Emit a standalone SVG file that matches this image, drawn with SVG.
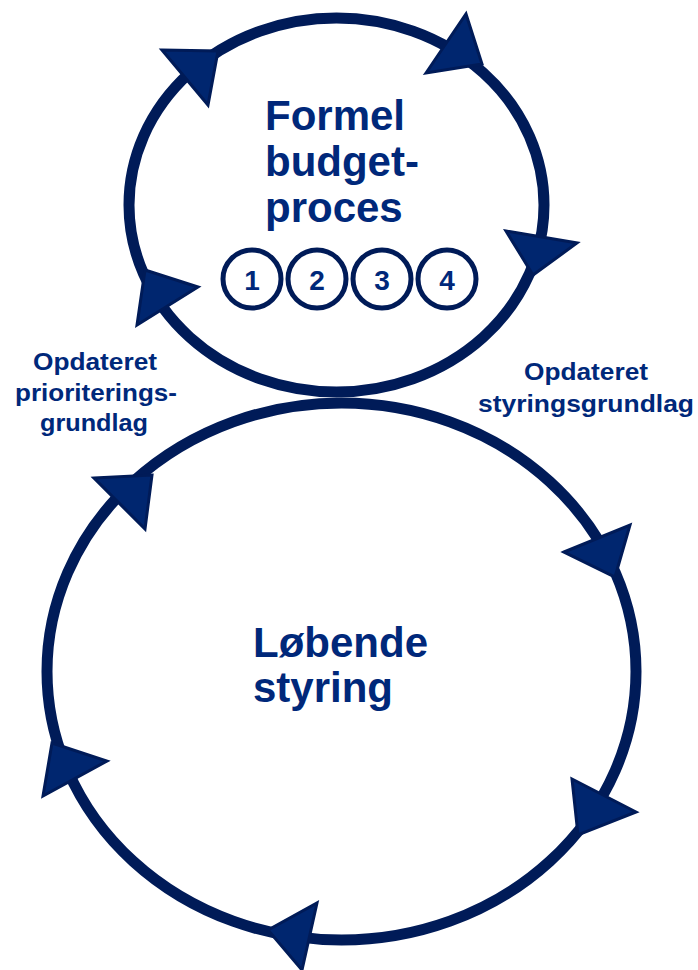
<svg xmlns="http://www.w3.org/2000/svg" width="698" height="970" viewBox="0 0 698 970">
  <style>
    .ring { fill: none; stroke: #001b58; stroke-width: 11; }
    .head { fill: #00266f; stroke: #001b58; stroke-width: 3; stroke-linejoin: miter; }
    .title { font-family: "Liberation Sans", Arial, sans-serif; font-weight: bold; font-size: 42px; fill: #00287a; }
    .lbl { font-family: "Liberation Sans", Arial, sans-serif; font-weight: bold; font-size: 24px; fill: #00287a; text-anchor: middle; }
    .step { fill: #ffffff; stroke: #001b58; stroke-width: 5; }
    .num { font-family: "Liberation Sans", Arial, sans-serif; font-weight: bold; font-size: 28px; fill: #00287a; text-anchor: middle; }
  </style>
  <rect width="698" height="970" fill="#ffffff"/>

  <g id="connectors">
    <ellipse class="ring" cx="336.5" cy="205" rx="207.5" ry="187"/>
    <ellipse class="ring" cx="341.5" cy="671.5" rx="294.5" ry="268.5"/>
    <polygon class="head" points="162,50 218,51 208,105"/>
    <polygon class="head" points="426,73 466,14 482,64"/>
    <polygon class="head" points="506,231 577,243 533,275"/>
    <polygon class="head" points="145,270 198,287 137,325"/>
    <polygon class="head" points="94,478 152,475 145,529"/>
    <polygon class="head" points="564,552 630,525 615,577"/>
    <polygon class="head" points="572,779 636,812 578,835"/>
    <polygon class="head" points="268,930 317,903 302,970"/>
    <polygon class="head" points="52,743 107,761 43,796"/>
  </g>

  <g id="formel-budgetproces">
    <text class="title" x="265" y="130">Formel</text>
    <text class="title" x="265" y="176">budget-</text>
    <text class="title" x="265" y="222">proces</text>
  </g>

  <g id="step-1">
    <circle class="step" cx="252" cy="279" r="29"/>
    <text class="num" x="252" y="290">1</text>
  </g>
  <g id="step-2">
    <circle class="step" cx="317" cy="279" r="29"/>
    <text class="num" x="317" y="290">2</text>
  </g>
  <g id="step-3">
    <circle class="step" cx="382" cy="279" r="29"/>
    <text class="num" x="382" y="290">3</text>
  </g>
  <g id="step-4">
    <circle class="step" cx="447" cy="279" r="29"/>
    <text class="num" x="447" y="290">4</text>
  </g>

  <g id="loebende-styring">
    <text class="title" x="253" y="657">Løbende</text>
    <text class="title" x="253" y="702">styring</text>
  </g>

  <g id="label-prioriteringsgrundlag">
    <text class="lbl" x="95" y="370" textLength="124" lengthAdjust="spacingAndGlyphs">Opdateret</text>
    <text class="lbl" x="96" y="401" textLength="162" lengthAdjust="spacingAndGlyphs">prioriterings-</text>
    <text class="lbl" x="94" y="431" textLength="108" lengthAdjust="spacingAndGlyphs">grundlag</text>
  </g>

  <g id="label-styringsgrundlag">
    <text class="lbl" x="586" y="380" textLength="124" lengthAdjust="spacingAndGlyphs">Opdateret</text>
    <text class="lbl" x="586" y="412" textLength="216" lengthAdjust="spacingAndGlyphs">styringsgrundlag</text>
  </g>
</svg>
